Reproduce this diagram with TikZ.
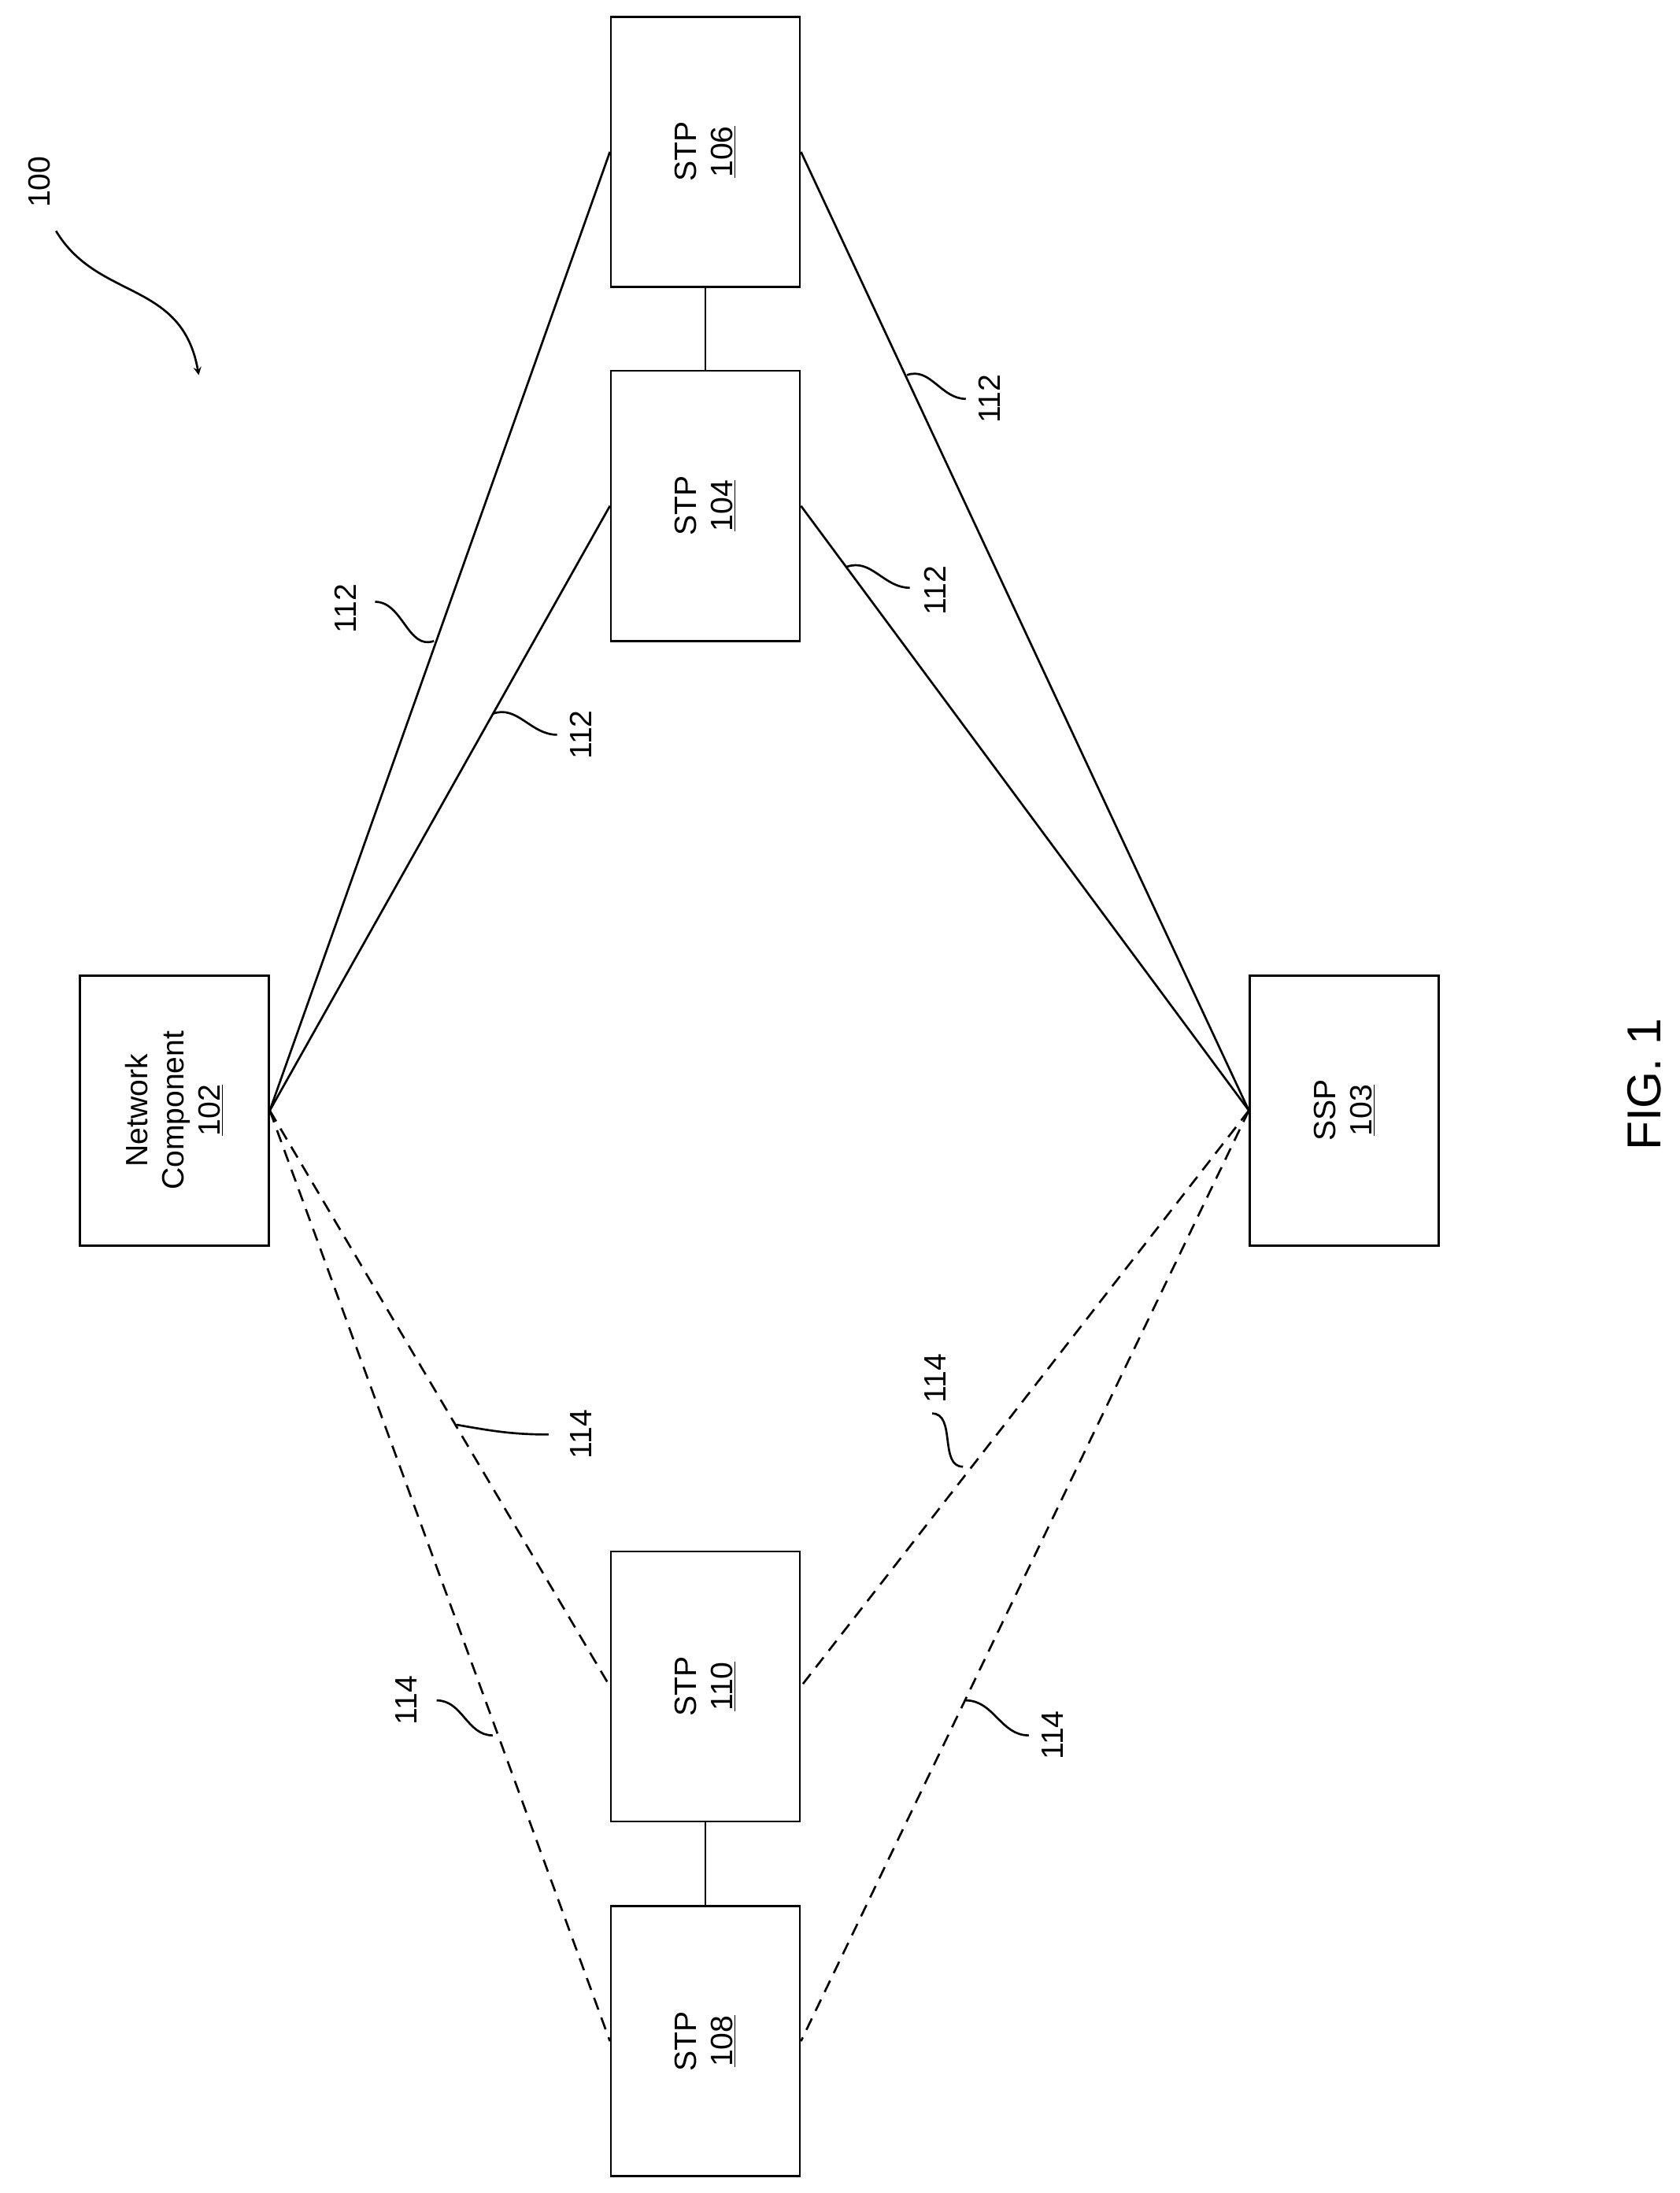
\documentclass[tikz,border=0pt]{standalone}
\usepackage{fontspec}
\setmainfont{Liberation Sans}
\begin{document}
\begin{tikzpicture}[x=1pt,y=-1pt,
 box/.style={draw,line width=1.5pt,minimum width=193pt,minimum height=135pt,rotate=90,align=center,font=\fontsize{22}{26}\selectfont},
 lbl/.style={rotate=90,font=\fontsize{22}{26}\selectfont},
 ln/.style={line width=1.5pt},
 dl/.style={line width=1.5pt,dash pattern=on 9pt off 6pt}]
\useasboundingbox (0,0) rectangle (1200,1567);
\node[box] (s106) at (504,108.5) {STP\\\underline{106}};
\node[box] (s104) at (504,361.5) {STP\\\underline{104}};
\node[box] (nc) at (124.5,793.5) {Network\\Component\\\underline{102}};
\node[box] (ssp) at (960.5,793.5) {SSP\\\underline{103}};
\node[box] (s110) at (504,1205) {STP\\\underline{110}};
\node[box] (s108) at (504,1458.5) {STP\\\underline{108}};
\draw[ln] (s106.west) -- (s104.east);
\draw[ln] (s110.west) -- (s108.east);
\draw[ln] (nc.south) -- (s106.north);
\draw[ln] (nc.south) -- (s104.north);
\draw[ln] (ssp.north) -- (s106.south);
\draw[ln] (ssp.north) -- (s104.south);
\draw[dl] (nc.south) -- (s110.north);
\draw[dl] (nc.south) -- (s108.north);
\draw[dl] (ssp.north) -- (s110.south);
\draw[dl] (ssp.north) -- (s108.south);
% labels
\node[lbl] (l1) at (247,435) {112};
\draw[ln] (268,430) to[out=0,in=200] (310,458);
\node[lbl] (l2) at (415,525) {112};
\draw[ln] (352,510) to[out=20,in=180] (398,525);
\node[lbl] (l3) at (707,285) {112};
\draw[ln] (648,268) to[out=20,in=180] (690,285);
\node[lbl] (l4) at (668,422) {112};
\draw[ln] (605,405) to[out=20,in=180] (650,420);
\node[lbl] (l5) at (415,1025) {114};
\draw[ln] (326,1018) to[out=-10,in=180] (392,1025);
\node[lbl] (l6) at (668,985) {114};
\draw[ln] (688,1048) to[out=180,in=0] (666,1010);
\node[lbl] (l7) at (290,1215) {114};
\draw[ln] (352,1240) to[out=180,in=0] (312,1215);
\node[lbl] (l8) at (752,1240) {114};
\draw[ln] (690,1215) to[out=0,in=180] (735,1240);
\node[lbl] (l100) at (28,130) {100};
\draw[ln,-stealth] (40,165) .. controls (70,215) and (130,200) .. (142,268);
\node[rotate=90,font=\fontsize{34}{40}\selectfont] (fig) at (1175,775) {FIG. 1};
\end{tikzpicture}
\end{document}
